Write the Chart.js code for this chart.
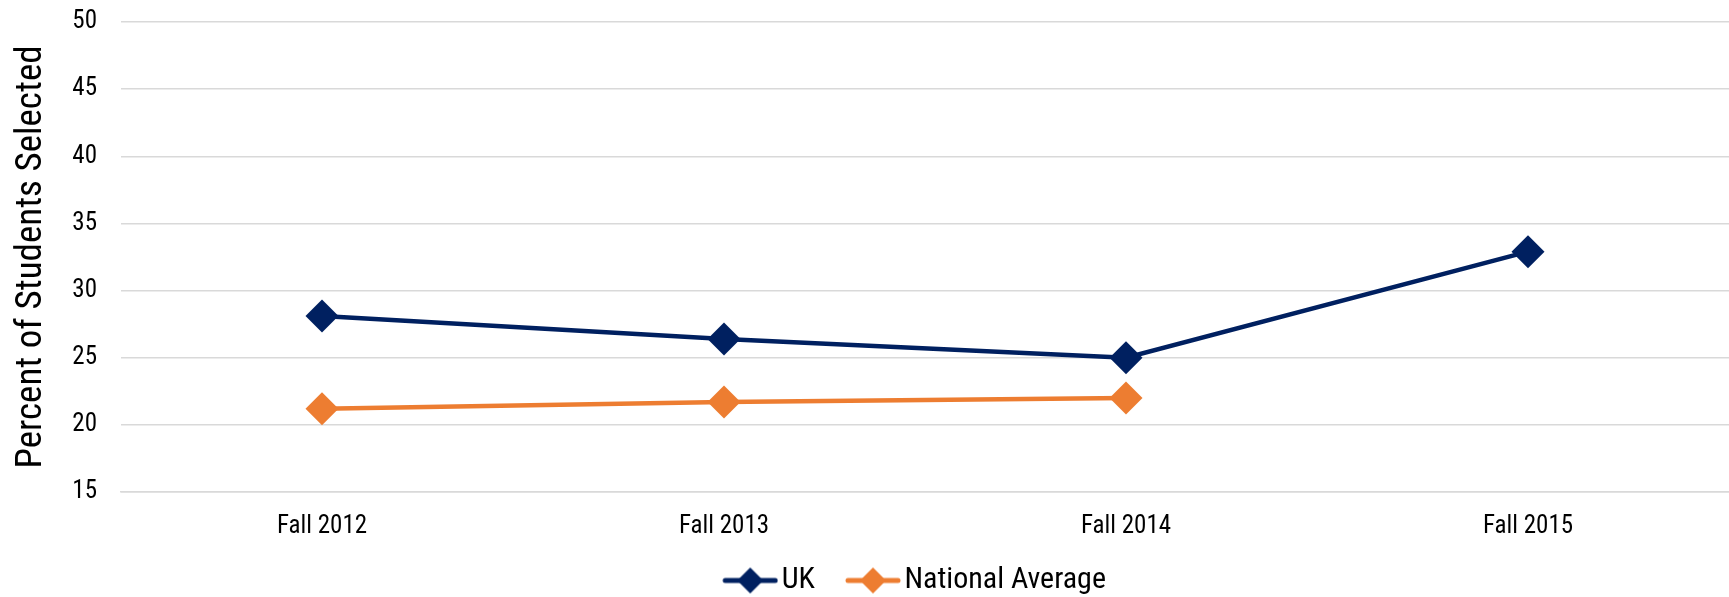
<!DOCTYPE html>
<html>
<head>
<meta charset="utf-8">
<script src="https://cdn.jsdelivr.net/npm/chart.js@4.4.1/dist/chart.umd.min.js"></script>
<style>
  html, body { margin: 0; padding: 0; background: #ffffff; overflow: hidden; }
  #wrap { width: 1729px; height: 597px; position: relative; }
  canvas { display: block; }
</style>
</head>
<body>
<div id="wrap"><canvas id="chart"></canvas></div>
<script>
// data
const terms = ['Fall 2012', 'Fall 2013', 'Fall 2014', 'Fall 2015'];
const ukValues = [28.1, 26.4, 25.0, 32.9];
const nationalValues = [21.2, 21.7, 22.0, null];
const yTicks = [15, 20, 25, 30, 35, 40, 45, 50];

const NAVY = '#002060';
const ORANGE = '#ED7D31';
const FONT = "'Liberation Sans Narrow', 'Arial Narrow', 'Roboto Condensed', 'DejaVu Sans Condensed', sans-serif";

// legend symbol: short line with a diamond on it
// (canvas is wider on the left so the line sits right next to the label text)
function legendSymbol(color) {
    const c = document.createElement('canvas');
    c.width = 72;
    c.height = 28;
    const ctx = c.getContext('2d');
    ctx.strokeStyle = color;
    ctx.lineWidth = 5;
    ctx.lineCap = 'round';
    ctx.beginPath();
    ctx.moveTo(19, 14);
    ctx.lineTo(69, 14);
    ctx.stroke();
    ctx.fillStyle = color;
    ctx.beginPath();
    ctx.moveTo(44, 1);
    ctx.lineTo(57, 14);
    ctx.lineTo(44, 27);
    ctx.lineTo(31, 14);
    ctx.closePath();
    ctx.fill();
    return c;
}

const ctx = document.getElementById('chart');
new Chart(ctx, {
    type: 'line',
    data: {
        labels: terms,
        datasets: [
            {
                label: 'UK',
                data: ukValues,
                borderColor: NAVY,
                backgroundColor: NAVY,
                borderWidth: 4.5,
                tension: 0,
                pointStyle: 'rectRot',
                pointRadius: 16.5,
                pointHoverRadius: 16.5,
                pointBorderWidth: 0,
                legendSymbol: legendSymbol(NAVY)
            },
            {
                label: 'National Average',
                data: nationalValues,
                borderColor: ORANGE,
                backgroundColor: ORANGE,
                borderWidth: 4.5,
                tension: 0,
                pointStyle: 'rectRot',
                pointRadius: 16.5,
                pointHoverRadius: 16.5,
                pointBorderWidth: 0,
                legendSymbol: legendSymbol(ORANGE)
            }
        ]
    },
    options: {
        responsive: true,
        maintainAspectRatio: false,
        animation: false,
        layout: {
            autoPadding: false,
            padding: { top: 22, right: 0, bottom: -8.5, left: 0 }
        },
        plugins: {
            tooltip: { enabled: false },
            legend: {
                position: 'bottom',
                fullSize: false,
                labels: {
                    usePointStyle: true,
                    pointStyleWidth: 49,
                    boxHeight: 28,
                    padding: 25.5,
                    color: '#000000',
                    font: { family: FONT, size: 30 },
                    // trailing em space nudges the centred legend a little to the left
                    generateLabels: chart => chart.data.datasets.map((ds, i) => ({
                        text: i === chart.data.datasets.length - 1 ? ds.label + '\u2003' : ds.label,
                        pointStyle: ds.legendSymbol,
                        fillStyle: ds.borderColor,
                        strokeStyle: ds.borderColor,
                        lineWidth: 0,
                        fontColor: '#000000',
                        hidden: false,
                        datasetIndex: i
                    }))
                }
            }
        },
        scales: {
            x: {
                offset: true,
                grid: { display: false, drawTicks: false },
                border: { display: true, color: '#d9d9d9', width: 1.5 },
                ticks: {
                    color: '#000000',
                    padding: 20,
                    font: { family: FONT, size: 25 }
                },
                afterFit: scale => {
                    scale.height = 48;
                    scale.paddingLeft = 0;
                    scale.paddingRight = 0;
                }
            },
            y: {
                min: 15,
                max: 50,
                afterBuildTicks: scale => { scale.ticks = yTicks.map(v => ({ value: v })); },
                grid: { color: '#d9d9d9', lineWidth: 1.5, drawTicks: true, tickLength: 20, tickColor: 'rgba(0,0,0,0)' },
                border: { display: false },
                ticks: {
                    color: '#000000',
                    padding: 4,
                    font: { family: FONT, size: 25 }
                },
                title: {
                    display: true,
                    text: 'Percent of Students Selected',
                    color: '#000000',
                    padding: { top: 10, bottom: 0 },
                    font: { family: FONT, size: 37 }
                },
                afterFit: scale => { scale.width = 121; }
            }
        }
    }
});
</script>
</body>
</html>
